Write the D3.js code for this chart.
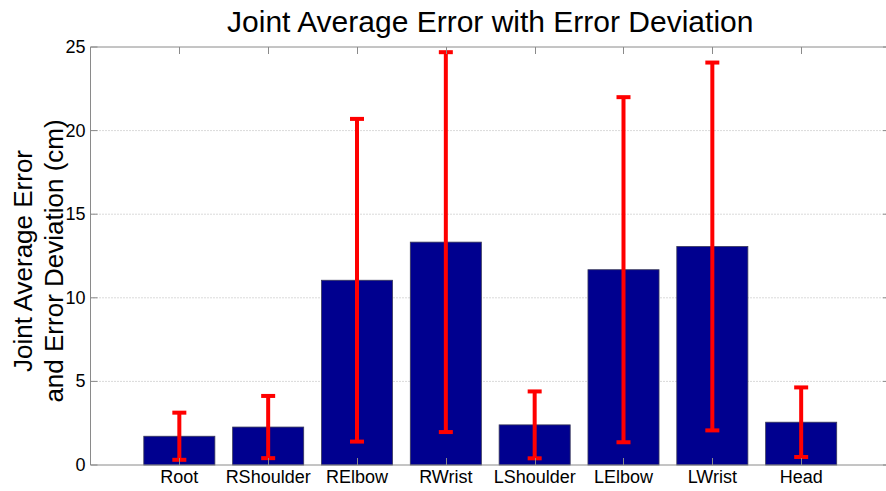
<!DOCTYPE html>
<html>
<head>
<meta charset="utf-8">
<script src="https://cdn.jsdelivr.net/npm/d3@7"></script>
<style>
  html, body { margin: 0; padding: 0; background: #fff; }
  svg { display: block; font-family: "Liberation Sans", Arial, sans-serif; }
</style>
</head>
<body>
<svg id="chart" width="886" height="491"></svg>
<script>
// Joint names along the x axis
const joints = ["Root", "RShoulder", "RElbow", "RWrist", "LShoulder", "LElbow", "LWrist", "Head"];
// Average error per joint (cm)
const avgError = [1.72, 2.27, 11.05, 13.33, 2.40, 11.68, 13.07, 2.56];
// Error deviation per joint (cm)
const errDev = [1.41, 1.86, 9.65, 11.36, 2.00, 10.32, 11.00, 2.08];
// Y tick values
const yTicks = [0, 5, 10, 15, 20, 25];

const svg = d3.select("#chart");
const plotLeft = 90.5, plotRight = 890, plotTop = 47, plotBottom = 465;

const x = d3.scaleLinear().domain([0, joints.length + 1]).range([plotLeft, plotRight]);
const y = d3.scaleLinear().domain([0, 25]).range([plotBottom, plotTop]);
const unit = x(1) - x(0);
const barW = unit * 0.8;

// dotted grid lines
svg.append("g").selectAll("line")
  .data(yTicks.filter(t => t > 0 && t < 25))
  .join("line")
  .attr("x1", plotLeft).attr("x2", plotRight)
  .attr("y1", d => y(d)).attr("y2", d => y(d))
  .attr("stroke", "#b4b4b4").attr("stroke-width", 1)
  .attr("stroke-dasharray", "1,2");

// bars
svg.append("g").selectAll("rect")
  .data(joints)
  .join("rect")
  .attr("x", (d, i) => x(i + 1) - barW / 2)
  .attr("width", barW)
  .attr("y", (d, i) => y(avgError[i]))
  .attr("height", (d, i) => y(0) - y(avgError[i]))
  .attr("fill", "#00008f")
  .attr("stroke", "#3a3a5a").attr("stroke-width", 0.8);

// error bars
const eb = svg.append("g").attr("stroke", "#ff0000").attr("stroke-width", 4);
joints.forEach((j, i) => {
  const cx = x(i + 1);
  const lo = y(avgError[i] - errDev[i]);
  const hi = y(avgError[i] + errDev[i]);
  eb.append("line").attr("x1", cx).attr("x2", cx).attr("y1", hi).attr("y2", lo);
  eb.append("line").attr("x1", cx - 7).attr("x2", cx + 7).attr("y1", hi).attr("y2", hi);
  eb.append("line").attr("x1", cx - 7).attr("x2", cx + 7).attr("y1", lo).attr("y2", lo);
});

// axes frame
const axisColor = "#8a8a8a";
const frame = svg.append("g").attr("stroke", axisColor).attr("stroke-width", 1);
frame.append("line").attr("x1", plotLeft).attr("x2", plotRight).attr("y1", plotTop).attr("y2", plotTop);
frame.append("line").attr("x1", plotLeft).attr("x2", plotRight).attr("y1", plotBottom).attr("y2", plotBottom);
frame.append("line").attr("x1", plotLeft).attr("x2", plotLeft).attr("y1", plotTop).attr("y2", plotBottom);
frame.append("line").attr("x1", plotRight).attr("x2", plotRight).attr("y1", plotTop).attr("y2", plotBottom);

// x ticks (inward, top and bottom)
joints.forEach((j, i) => {
  const cx = Math.round(x(i + 1)) + 0.5;
  frame.append("line").attr("x1", cx).attr("x2", cx).attr("y1", plotTop).attr("y2", plotTop + 7);
  frame.append("line").attr("x1", cx).attr("x2", cx).attr("y1", plotBottom).attr("y2", plotBottom - 7);
});
// y ticks (inward, left and right)
yTicks.forEach(t => {
  const cy = y(t);
  frame.append("line").attr("x1", plotLeft).attr("x2", plotLeft + 7).attr("y1", cy).attr("y2", cy);
  frame.append("line").attr("x1", plotRight).attr("x2", plotRight - 7).attr("y1", cy).attr("y2", cy);
});

// y tick labels
svg.append("g").selectAll("text")
  .data(yTicks)
  .join("text")
  .attr("x", plotLeft - 5)
  .attr("y", d => y(d) + 6)
  .attr("text-anchor", "end")
  .attr("font-size", 18)
  .attr("fill", "#000")
  .text(d => d);

// x tick labels
svg.append("g").selectAll("text")
  .data(joints)
  .join("text")
  .attr("x", (d, i) => x(i + 1))
  .attr("y", 483)
  .attr("text-anchor", "middle")
  .attr("font-size", 18)
  .attr("fill", "#000")
  .text(d => d);

// title
svg.append("text")
  .attr("x", (plotLeft + plotRight) / 2)
  .attr("y", 32)
  .attr("text-anchor", "middle")
  .attr("font-size", 30)
  .attr("fill", "#000")
  .text("Joint Average Error with Error Deviation");

// y axis label (two lines)
const yl = svg.append("text")
  .attr("transform", "translate(0, 261) rotate(-90)")
  .attr("text-anchor", "middle")
  .attr("font-size", 26)
  .attr("fill", "#000");
yl.append("tspan").attr("x", 0).attr("y", 32).text("Joint Average Error");
yl.append("tspan").attr("x", 0).attr("y", 63).text("and Error Deviation (cm)");
</script>
</body>
</html>
